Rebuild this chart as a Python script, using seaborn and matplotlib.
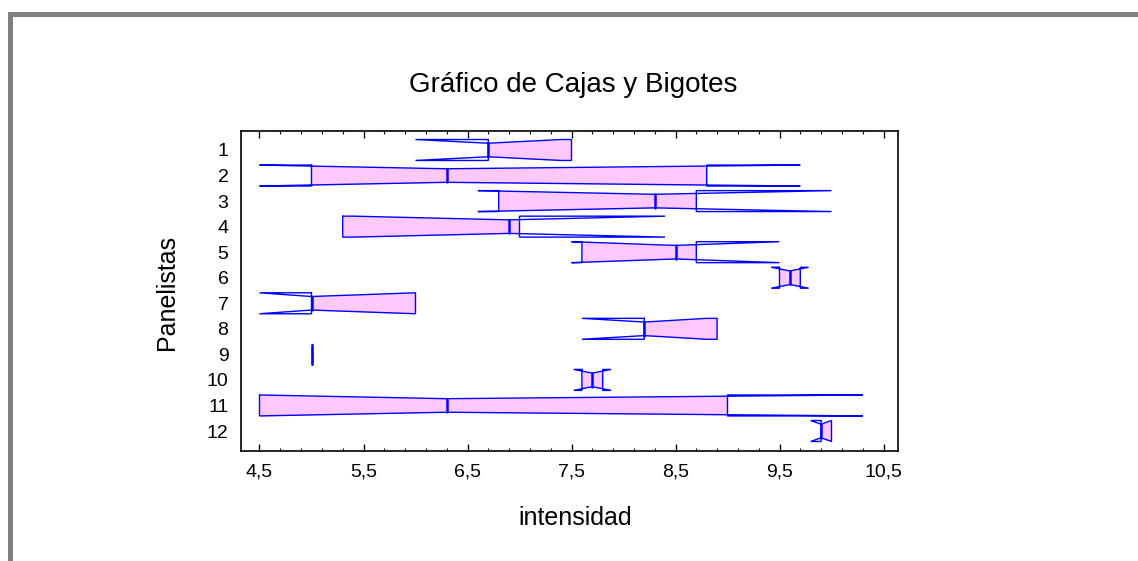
import numpy as np
import matplotlib
matplotlib.use("Agg")
import matplotlib.pyplot as plt
import seaborn as sns
from matplotlib.patches import Rectangle
from matplotlib.ticker import FixedLocator, FixedFormatter

# ---------------- data ----------------
panelistas = ["1", "2", "3", "4", "5", "6", "7", "8", "9", "10", "11", "12"]
notch_inf = [6.0, 4.5, 6.6, 5.4, 7.5, 9.42, 4.5, 7.6, 5.0, 7.52, 4.5, 9.8]
cuartil1 = [6.7, 5.0, 6.8, 5.3, 7.6, 9.5, 5.0, 8.2, 5.0, 7.6, 4.5, 9.9]
mediana = [6.7, 6.3, 8.3, 6.9, 8.5, 9.6, 5.0, 8.2, 5.0, 7.7, 6.3, 9.9]
cuartil3 = [7.5, 8.8, 8.7, 7.0, 8.7, 9.7, 6.0, 8.9, 5.0, 7.8, 9.0, 10.0]
notch_sup = [7.4, 9.7, 10.0, 8.4, 9.5, 9.78, 6.0, 8.8, 5.0, 7.88, 10.3, 10.0]

x_ticks = [4.5, 5.5, 6.5, 7.5, 8.5, 9.5, 10.5]
x_ticklabels = ["4,5", "5,5", "6,5", "7,5", "8,5", "9,5", "10,5"]

titulo = "Gráfico de Cajas y Bigotes"
etiqueta_x = "intensidad"
etiqueta_y = "Panelistas"

# ---------------- style ----------------
sns.set_theme(style="white")
plt.rcParams["font.family"] = ["Liberation Sans", "DejaVu Sans"]

W, H_PX = 1138, 561
fig = plt.figure(figsize=(W / 100, H_PX / 100), dpi=100)
ax = fig.add_axes([241 / W, 1 - 451 / H_PX, (898 - 241) / W, (451 - 131) / H_PX])

EDGE = "#0000FF"
FILL = "#FFC8FF"
HALF = 0.41      # full half-height of a box (category units)
HALF_MED = 0.265  # half-height at the median (notch waist)


def taper(x, med, lo, hi):
    """half-height of the notch outline at value x"""
    x = np.asarray(x, dtype=float)
    out = np.full_like(x, HALF)
    left = x <= med
    dl = med - lo
    dr = hi - med
    tl = np.where(dl > 0, np.clip((med - x) / (dl if dl > 0 else 1), 0, 1), 1.0)
    tr = np.where(dr > 0, np.clip((x - med) / (dr if dr > 0 else 1), 0, 1), 1.0)
    out = np.where(left, HALF_MED + (HALF - HALF_MED) * tl,
                   HALF_MED + (HALF - HALF_MED) * tr)
    return out


for i, name in enumerate(panelistas):
    pos = i + 1
    lo, a, m, b, hi = notch_inf[i], cuartil1[i], mediana[i], cuartil3[i], notch_sup[i]

    # pink fill: the notched box between the quartiles
    xs = sorted(set([a, b] + [v for v in (lo, m, hi) if a < v < b]))
    xs = np.array(xs)
    if len(xs) > 1:
        hh = taper(xs, m, lo, hi)
        ax.fill_between(xs, pos - hh, pos + hh, color=FILL, linewidth=0, zorder=2)

    # outline (notched box path)
    px = [a, lo, m, hi, b, b, hi, m, lo, a, a]
    py = [pos - HALF, pos - HALF, pos - HALF_MED, pos - HALF, pos - HALF,
          pos + HALF, pos + HALF, pos + HALF_MED, pos + HALF, pos + HALF, pos - HALF]
    ax.plot(px, py, color=EDGE, linewidth=1.0, zorder=3, solid_joinstyle="miter")

    # median line
    ax.plot([m, m], [pos - HALF_MED, pos + HALF_MED], color=EDGE, linewidth=1.8, zorder=4)

# ---------------- axes ----------------
ax.set_xlim(4.5 - 18.5 / 104, 10.5 + 14.5 / 104)
ax.set_ylim(12 + 20 / 25.55, 1 - 19 / 25.55)

ax.xaxis.set_major_locator(FixedLocator(x_ticks))
ax.xaxis.set_major_formatter(FixedFormatter(x_ticklabels))
ax.xaxis.set_minor_locator(FixedLocator([round(4.5 + 0.2 * k, 2) for k in range(31)]))
ax.set_yticks(range(1, len(panelistas) + 1))
ax.set_yticklabels(panelistas)

ax.tick_params(axis="x", which="major", direction="in", top=True, bottom=True,
               length=5, width=1, color="black", labelsize=14, pad=9, labelcolor="black")
ax.tick_params(axis="x", which="minor", direction="in", top=True, bottom=True,
               length=2.5, width=0.8, color="black")
ax.tick_params(axis="y", which="both", length=0, labelsize=14, pad=9, labelcolor="black")

for sp in ax.spines.values():
    sp.set_visible(True)
    sp.set_color("black")
    sp.set_linewidth(1.2)
ax.grid(False)
ax.set_facecolor("white")

ax.set_xlabel(etiqueta_x, fontsize=18, color="black")
ax.xaxis.label.set_va("center")
ax.xaxis.set_label_coords((575 - 241) / 657, (451 - 518) / 320)
ax.set_ylabel(etiqueta_y, fontsize=18, color="black")
ax.yaxis.label.set_va("center")
ax.yaxis.set_label_coords((167 - 241) / 657, (451 - 292) / 320)

fig.text(573 / W, 1 - 85 / H_PX, titulo, ha="center", va="center", fontsize=20, color="black")

# grey window border (top and left)
fig.add_artist(Rectangle((8 / W, 1 - 17 / H_PX), 1 - 8 / W, 5 / H_PX,
                         transform=fig.transFigure, facecolor="#808080", edgecolor="none"))
fig.add_artist(Rectangle((8 / W, 0), 5 / W, 1 - 12 / H_PX,
                         transform=fig.transFigure, facecolor="#808080", edgecolor="none"))

fig.savefig("out.png", dpi=100, facecolor="white")
